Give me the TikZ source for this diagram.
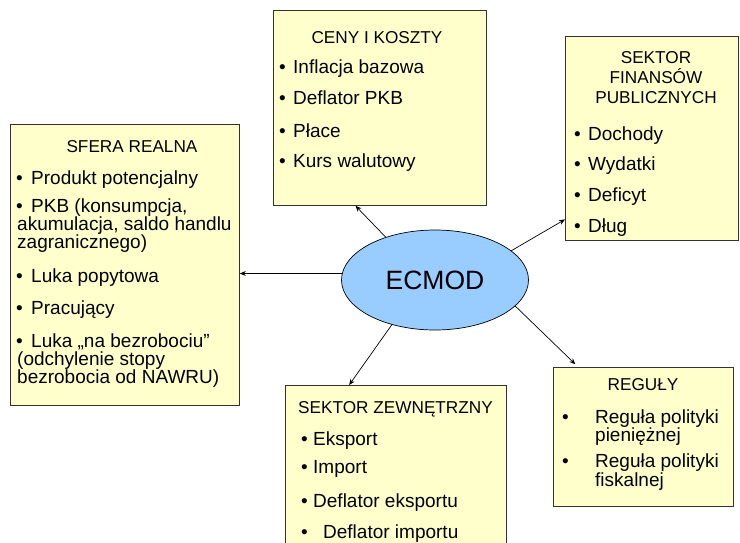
\documentclass[tikz,border=0pt]{standalone}
\usepackage{fontspec}
\setmainfont{Liberation Sans}
\usetikzlibrary{arrows.meta,shapes.geometric}
\definecolor{notefill}{HTML}{FFFFCC}
\definecolor{corefill}{HTML}{99CCFF}
\newcommand{\bul}[1][14pt]{\makebox[#1][l]{•}}

\begin{document}
\begin{tikzpicture}[x=1pt,y=-1pt,
  panel/.style={draw=black!80, line width=0.8pt, fill=notefill, rectangle,
    inner sep=0pt, anchor=north west},
  head/.style={font=\fontsize{17.2}{18}\selectfont, anchor=base, inner sep=0pt},
  entry/.style={font=\fontsize{19}{18}\selectfont, anchor=base west, inner sep=0pt},
  link/.style={line width=0.7pt, -{Stealth[length=6pt,width=5pt]}}]

\useasboundingbox (0,0) rectangle (740,542);
\clip (0,0) rectangle (740,542);

% panels
\node[panel, minimum width=229pt, minimum height=281pt] (sfera) at (10,124) {};
\node[panel, minimum width=213pt, minimum height=195pt] (ceny) at (273,10) {};
\node[panel, minimum width=173pt, minimum height=204pt] (fin) at (565,36) {};
\node[panel, minimum width=221pt, minimum height=175pt] (zew) at (285,385) {};
\node[panel, minimum width=180pt, minimum height=139pt] (reg) at (553,367) {};

% central model
\node[ellipse, draw, fill=corefill, line width=0.7pt, inner sep=0pt,
  minimum width=187pt, minimum height=100pt,
  font=\fontsize{26.5}{26}\selectfont] (ecmod) at (435,280) {ECMOD};

% SFERA REALNA
\node[head] (sfera-h) at (132,152) {SFERA REALNA};
\node[entry] (sfera-1) at (16,184) {\bul[15pt]Produkt potencjalny};
\node[entry] (sfera-2) at (16,212) {\bul[15pt]PKB (konsumpcja,};
\node[entry] (sfera-2b) at (17,230) {akumulacja, saldo handlu};
\node[entry] (sfera-2c) at (17,248) {zagranicznego)};
\node[entry] (sfera-3) at (16,282) {\bul[15pt]Luka popytowa};
\node[entry] (sfera-4) at (16,314) {\bul[15pt]Pracujący};
\node[entry] (sfera-5) at (16,347) {\bul[15pt]Luka „na bezrobociu”};
\node[entry] (sfera-5b) at (17,365) {(odchylenie stopy};
\node[entry] (sfera-5c) at (17,383) {bezrobocia od NAWRU)};

% CENY I KOSZTY
\node[head] (ceny-h) at (377,43) {CENY I KOSZTY};
\node[entry] (ceny-1) at (279,73) {\bul Inflacja bazowa};
\node[entry] (ceny-2) at (279,104) {\bul Deflator PKB};
\node[entry] (ceny-3) at (279,137) {\bul Płace};
\node[entry] (ceny-4) at (279,167) {\bul Kurs walutowy};

% SEKTOR FINANSOW PUBLICZNYCH
\node[head] (fin-h1) at (656,63) {SEKTOR};
\node[head] (fin-h2) at (656,83) {FINANSÓW};
\node[head] (fin-h3) at (656,103) {PUBLICZNYCH};
\node[entry] (fin-1) at (574,140) {\bul Dochody};
\node[entry] (fin-2) at (574,170) {\bul Wydatki};
\node[entry] (fin-3) at (574,201) {\bul Deficyt};
\node[entry] (fin-4) at (574,232) {\bul Dług};

% SEKTOR ZEWNETRZNY
\node[head] (zew-h) at (395.5,413) {SEKTOR ZEWNĘTRZNY};
\node[entry] (zew-1) at (301,445) {\bul[12pt]Eksport};
\node[entry] (zew-2) at (301,473) {\bul[12pt]Import};
\node[entry] (zew-3) at (301,507) {\bul[12pt]Deflator eksportu};
\node[entry] (zew-4) at (301,538) {\bul[22pt]Deflator importu};

% REGULY
\node[head] (reg-h) at (643,390) {REGUŁY};
\node[entry] (reg-1) at (562,423) {\bul[33pt]Reguła polityki};
\node[entry] (reg-1b) at (595,441) {pieniężnej};
\node[entry] (reg-2) at (562,467) {\bul[33pt]Reguła polityki};
\node[entry] (reg-2b) at (595,486) {fiskalnej};

% links from the model to each block
\draw[link] (ecmod.176) -- (ecmod.176 -| sfera.east);
\draw[link] (ecmod.139) -- (ceny.256);
\draw[link] (ecmod.21) -- (fin.223);
\draw[link, shorten >=4pt] (ecmod.342) -- (reg.133);
\draw[link] (ecmod.226) -- (zew.118);

\end{tikzpicture}
\end{document}
